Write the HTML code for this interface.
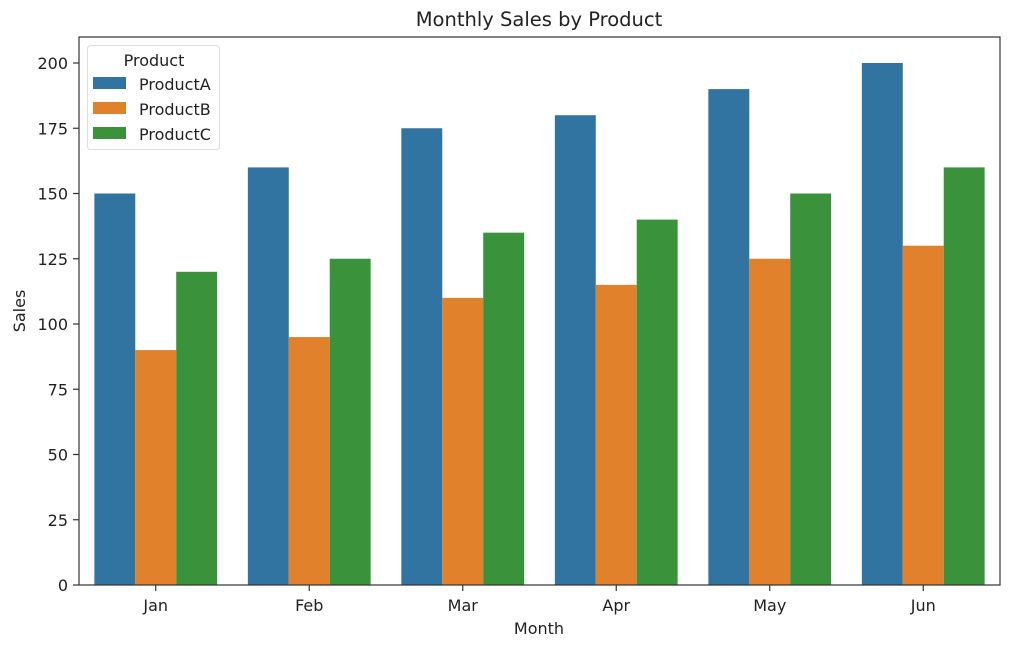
<!DOCTYPE html>
<html><head><meta charset="utf-8"><style>body{margin:0;background:#fff}svg{display:block;font-family:"DejaVu Sans","Liberation Sans",sans-serif}</style></head>
<body>
<svg width="1024" height="647" viewBox="0 0 1024 647">
<text x="539" y="26" font-size="19.5" text-anchor="middle" fill="#222">Monthly Sales by Product</text>
<g fill="#3274a1">
<rect x="94.35" y="193.5" width="40.93" height="391.5"/>
<rect x="247.85" y="167.4" width="40.93" height="417.6"/>
<rect x="401.35" y="128.25" width="40.93" height="456.75"/>
<rect x="554.85" y="115.2" width="40.93" height="469.8"/>
<rect x="708.35" y="89.1" width="40.93" height="495.9"/>
<rect x="861.85" y="63" width="40.93" height="522"/>
</g>
<g fill="#e1812c">
<rect x="135.28" y="350.1" width="40.93" height="234.9"/>
<rect x="288.78" y="337.05" width="40.93" height="247.95"/>
<rect x="442.28" y="297.9" width="40.93" height="287.1"/>
<rect x="595.78" y="284.85" width="40.93" height="300.15"/>
<rect x="749.28" y="258.75" width="40.93" height="326.25"/>
<rect x="902.78" y="245.7" width="40.93" height="339.3"/>
</g>
<g fill="#3a923a">
<rect x="176.22" y="271.8" width="40.93" height="313.2"/>
<rect x="329.72" y="258.75" width="40.93" height="326.25"/>
<rect x="483.22" y="232.65" width="40.93" height="352.35"/>
<rect x="636.72" y="219.6" width="40.93" height="365.4"/>
<rect x="790.22" y="193.5" width="40.93" height="391.5"/>
<rect x="943.72" y="167.4" width="40.93" height="417.6"/>
</g>
<rect x="79" y="37" width="921" height="548" fill="none" stroke="#333" stroke-width="1.2"/>
<g stroke="#333" stroke-width="1.2">
<line x1="73" x2="79" y1="585" y2="585"/><line x1="73" x2="79" y1="519.75" y2="519.75"/><line x1="73" x2="79" y1="454.5" y2="454.5"/><line x1="73" x2="79" y1="389.25" y2="389.25"/><line x1="73" x2="79" y1="324" y2="324"/><line x1="73" x2="79" y1="258.75" y2="258.75"/><line x1="73" x2="79" y1="193.5" y2="193.5"/><line x1="73" x2="79" y1="128.25" y2="128.25"/><line x1="73" x2="79" y1="63" y2="63"/>
<line x1="155.75" x2="155.75" y1="585" y2="591"/><line x1="309.25" x2="309.25" y1="585" y2="591"/><line x1="462.75" x2="462.75" y1="585" y2="591"/><line x1="616.25" x2="616.25" y1="585" y2="591"/><line x1="769.75" x2="769.75" y1="585" y2="591"/><line x1="923.25" x2="923.25" y1="585" y2="591"/>
</g>
<g font-size="16" fill="#222" text-anchor="end">
<text x="68" y="591">0</text><text x="68" y="525.75">25</text><text x="68" y="460.5">50</text><text x="68" y="395.25">75</text><text x="68" y="330">100</text><text x="68" y="264.75">125</text><text x="68" y="199.5">150</text><text x="68" y="134.25">175</text><text x="68" y="69">200</text>
</g>
<g font-size="16" fill="#222" text-anchor="middle">
<text x="155.75" y="611">Jan</text><text x="309.25" y="611">Feb</text><text x="462.75" y="611">Mar</text><text x="616.25" y="611">Apr</text><text x="769.75" y="611">May</text><text x="923.25" y="611">Jun</text>
<text x="539" y="634">Month</text>
<text transform="translate(25,311) rotate(-90)">Sales</text>
</g>
<rect x="87.5" y="45.5" width="132" height="104" rx="3" fill="#fff" fill-opacity="0.8" stroke="#ddd"/>
<text x="154" y="66" font-size="16" fill="#222" text-anchor="middle">Product</text>
<rect x="93" y="77" width="33" height="12" fill="#3274a1"/>
<rect x="93" y="102" width="33" height="12" fill="#e1812c"/>
<rect x="93" y="127" width="33" height="12" fill="#3a923a"/>
<g font-size="16" fill="#222"><text x="139" y="90">ProductA</text><text x="139" y="115">ProductB</text><text x="139" y="140">ProductC</text></g>
</svg>
</body></html>
